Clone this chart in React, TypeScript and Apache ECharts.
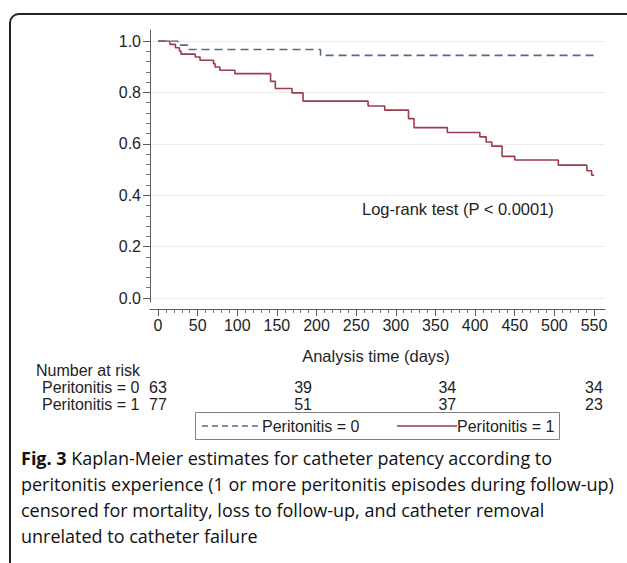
import React, { useEffect, useRef } from "react";
import * as echarts from "echarts";

const W = 627;
const H = 563;

const seriesNames = ["Peritonitis = 0", "Peritonitis = 1"];

const peritonitis0Days = [0, 25, 38, 205, 550];
const peritonitis0Surv = [1.0, 0.984, 0.967, 0.944, 0.944];

const peritonitis1Days = [0, 15, 22, 27, 29, 47, 53, 70, 72, 78, 97, 142, 148, 169, 183, 265, 286, 316, 323, 365, 406, 414, 421, 434, 450, 505, 541, 547, 550];
const peritonitis1Surv = [1.0, 0.987, 0.974, 0.961, 0.949, 0.938, 0.925, 0.912, 0.899, 0.886, 0.873, 0.843, 0.815, 0.798, 0.766, 0.747, 0.731, 0.698, 0.663, 0.644, 0.627, 0.607, 0.591, 0.551, 0.537, 0.517, 0.495, 0.478, 0.478];

const riskTimes = [0, 183, 365, 550];
const riskPeritonitis0 = [63, 39, 34, 34];
const riskPeritonitis1 = [77, 51, 37, 23];

const riskTitle = "Number at risk";
const xAxisTitle = "Analysis time (days)";
const testLabel = "Log-rank test (P < 0.0001)";
const captionBold = "Fig. 3";
const captionLines = [
  " Kaplan-Meier estimates for catheter patency according to",
  "peritonitis experience (1 or more peritonitis episodes during follow-up)",
  "censored for mortality, loss to follow-up, and catheter removal",
  "unrelated to catheter failure",
];

const FONT = "'Liberation Sans', Arial, Helvetica, sans-serif";
const CAP_FONT = "'Open Sans', 'Noto Sans', sans-serif";
const BLUE = "#4f6b88";
const RED = "#9c3c4c";
const TXT = "#1e1e1e";
const AXC = "#5a5a5a";
const FS = 16;

const hiddenAxis = (gridIndex: number, min: number, max: number) => ({
  gridIndex, type: "value", min, max, show: false,
});

export default function App() {
  const ref = useRef<HTMLDivElement>(null);
  useEffect(() => {
    if (!ref.current) return;
    const chart = echarts.init(ref.current, undefined, { renderer: "svg" });
    const d0 = peritonitis0Days.map((d, i) => [d, peritonitis0Surv[i]]);
    const d1 = peritonitis1Days.map((d, i) => [d, peritonitis1Surv[i]]);
    chart.setOption({
      animation: false,
      backgroundColor: "#ffffff",
      textStyle: { fontFamily: FONT },
      grid: [
        { left: 150, right: 22, top: 30, bottom: 261 }, // y axis line
        { left: 150, right: 22, top: 30, bottom: 254 }, // x axis line
        { left: 150, right: 22, top: 41, bottom: 265 }, // y ticks, labels, grid lines
        { left: 158, right: 33, top: 41, bottom: 254 }, // x ticks, labels
        { left: 158, right: 33, top: 41, bottom: 265 }, // data
      ],
      xAxis: [
        hiddenAxis(0, 0, 1),
        {
          gridIndex: 1, type: "value", min: 0, max: 1,
          axisLine: { show: true, lineStyle: { color: AXC, width: 1 } },
          axisTick: { show: false }, axisLabel: { show: false }, splitLine: { show: false },
        },
        hiddenAxis(2, 0, 1),
        {
          gridIndex: 3, type: "value", min: 0, max: 550, interval: 50,
          axisLine: { show: false },
          axisTick: { show: true, length: 7, lineStyle: { color: AXC } },
          minorTick: { show: true, splitNumber: 5, length: 4, lineStyle: { color: "#777" } },
          axisLabel: { fontSize: FS, color: TXT, margin: 8, fontFamily: FONT },
          splitLine: { show: false }, minorSplitLine: { show: false },
          name: xAxisTitle, nameLocation: "middle", nameGap: 38,
          nameTextStyle: { fontSize: 16.5, color: TXT, fontFamily: FONT },
        },
        hiddenAxis(4, 0, 550),
      ],
      yAxis: [
        {
          gridIndex: 0, type: "value", min: 0, max: 1,
          axisLine: { show: true, lineStyle: { color: AXC, width: 1 } },
          axisTick: { show: false }, axisLabel: { show: false }, splitLine: { show: false },
        },
        hiddenAxis(1, 0, 1),
        {
          gridIndex: 2, type: "value", min: 0, max: 1, interval: 0.2,
          axisLine: { show: false },
          axisTick: { show: true, length: 7, lineStyle: { color: AXC } },
          minorTick: { show: true, splitNumber: 5, length: 4, lineStyle: { color: "#777" } },
          axisLabel: { fontSize: FS, color: TXT, margin: 9, fontFamily: FONT, formatter: (v: number) => v.toFixed(1) },
          splitLine: { show: true, lineStyle: { color: "#ececec", width: 1 } },
        },
        hiddenAxis(3, 0, 1),
        hiddenAxis(4, 0, 1),
      ],
      series: [
        {
          type: "line", name: seriesNames[0], xAxisIndex: 4, yAxisIndex: 4,
          step: "end", symbol: "none", data: d0,
          lineStyle: { color: BLUE, width: 1.6, type: [8, 5] },
          itemStyle: { color: BLUE },
        },
        {
          type: "line", name: seriesNames[1], xAxisIndex: 4, yAxisIndex: 4,
          step: "end", symbol: "none", data: d1,
          lineStyle: { color: RED, width: 1.6 },
          itemStyle: { color: RED },
        },
      ],
    });

    const txt = (x: number, y: number, text: string, align = "left", size = FS) => ({
      type: "text", x, y,
      style: { text, fontSize: size, fontFamily: FONT, fill: TXT, align, verticalAlign: "middle" },
    });

    const elements: any[] = [
      {
        type: "rect",
        shape: { x: 10, y: 14, width: 640, height: 600, r: [9, 0, 0, 0] },
        style: { fill: "none", stroke: "#222", lineWidth: 2 },
      },
      txt(362, 209, testLabel, "left", 16.5),
      txt(36, 370, riskTitle),
      txt(42, 387, seriesNames[0]),
      txt(42, 404, seriesNames[1]),
      // legend box
      {
        type: "rect",
        shape: { x: 195.5, y: 412.5, width: 364, height: 27 },
        style: { fill: "none", stroke: "#808080", lineWidth: 1 },
      },
      {
        type: "line",
        shape: { x1: 202, y1: 426, x2: 260, y2: 426 },
        style: { stroke: BLUE, lineWidth: 1.4, lineDash: [6, 4] },
      },
      txt(262, 426, seriesNames[0]),
      {
        type: "line",
        shape: { x1: 397, y1: 426, x2: 457, y2: 426 },
        style: { stroke: RED, lineWidth: 1.4 },
      },
      txt(457, 426, seriesNames[1]),
    ];
    riskTimes.forEach((t, i) => {
      const px = chart.convertToPixel({ xAxisIndex: 4 }, t) as number;
      elements.push(txt(px, 387, String(riskPeritonitis0[i]), "center"));
      elements.push(txt(px, 404, String(riskPeritonitis1[i]), "center"));
    });
    captionLines.forEach((line, i) => {
      const text = i === 0 ? `{b|${captionBold}}${line}` : line;
      elements.push({
        type: "text", x: 21, y: 458 + i * 26,
        style: {
          text, fontSize: 18, fontFamily: CAP_FONT, fill: "#111", align: "left", verticalAlign: "middle",
          rich: { b: { fontSize: 18, fontFamily: CAP_FONT, fontWeight: "bold", fill: "#111" } },
        },
      });
    });
    chart.setOption({ graphic: elements });
    return () => chart.dispose();
  }, []);
  return (
    <div
      ref={ref}
      style={{ position: "absolute", left: 0, top: 0, width: W, height: H, background: "#fff" }}
    />
  );
}
